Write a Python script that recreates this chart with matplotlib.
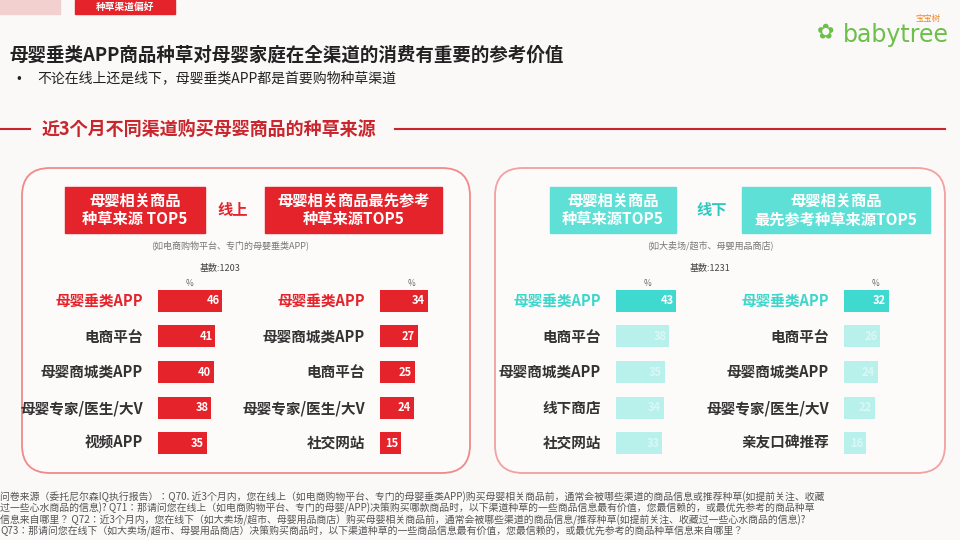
import matplotlib
matplotlib.use("Agg")
import matplotlib.pyplot as plt
from matplotlib.patches import FancyBboxPatch, Rectangle

plt.rcParams["font.family"] = ["Noto Sans CJK JP", "DejaVu Sans"]

title = "母婴垂类APP商品种草对母婴家庭在全渠道的消费有重要的参考价值"
bullet = "不论在线上还是线下，母婴垂类APP都是首要购物种草渠道"
section = "近3个月不同渠道购买母婴商品的种草来源"

online_src_cats = ["母婴垂类APP", "电商平台", "母婴商城类APP", "母婴专家/医生/大V", "视频APP"]
online_src_vals = [46, 41, 40, 38, 35]
online_first_cats = ["母婴垂类APP", "母婴商城类APP", "电商平台", "母婴专家/医生/大V", "社交网站"]
online_first_vals = [34, 27, 25, 24, 15]
offline_src_cats = ["母婴垂类APP", "电商平台", "母婴商城类APP", "线下商店", "社交网站"]
offline_src_vals = [43, 38, 35, 34, 33]
offline_first_cats = ["母婴垂类APP", "电商平台", "母婴商城类APP", "母婴专家/医生/大V", "亲友口碑推荐"]
offline_first_vals = [32, 26, 24, 22, 16]

W, H = 960, 540
fig = plt.figure(figsize=(9.6, 5.4), dpi=100)
fig.patch.set_facecolor("#fbf8f8")
bg = fig.add_axes([0, 0, 1, 1])
bg.set_xlim(0, W); bg.set_ylim(H, 0); bg.axis("off")

RED = "#e5232b"; DRED = "#c8262c"; TEAL = "#3fd9cf"; LTEAL = "#b8f0ec"; GREY = "#333333"

# top tag
bg.add_patch(Rectangle((75, 0), 100, 14, color=RED))
bg.text(125, 7, "种草渠道偏好", color="white", fontsize=7, ha="center", va="center", weight="bold")
bg.add_patch(Rectangle((0, 0), 60, 14, color="#f3d0d0"))
# logo
bg.text(843, 35, "babytree", color="#6cc04a", fontsize=17, ha="left", va="center", family="DejaVu Sans")
bg.text(826, 32, "✿", color="#6cc04a", fontsize=15, ha="center", va="center", family="DejaVu Sans")
bg.text(928, 19, "宝宝树", color="#f08a24", fontsize=6, ha="center", va="center")

bg.text(10, 55, title, fontsize=13.3, weight="bold", color="#222", va="center")
bg.text(16, 78, "•", fontsize=10, color="#222", va="center")
bg.text(37, 78, bullet, fontsize=10, color="#222", va="center")

bg.plot([0, 30], [129, 129], color=DRED, lw=1.5)
bg.plot([395, 945], [129, 129], color=DRED, lw=1.5)
bg.text(42, 129, section, fontsize=13, weight="bold", color=DRED, va="center")

def panel(x0, x1, edge):
    bg.add_patch(FancyBboxPatch((x0, 168), x1 - x0, 305, boxstyle="round,pad=0,rounding_size=28",
                                fc="#fdfafa", ec=edge, lw=1.3))
panel(22, 470, "#f08a8a")
panel(495, 945, "#f3a0a0")

def hbox(x0, x1, text, col):
    bg.add_patch(Rectangle((x0, 187), x1 - x0, 46, color=col))
    bg.text((x0 + x1) / 2, 210, text, color="white", fontsize=11, weight="bold",
            ha="center", va="center", linespacing=1.2)

hbox(65, 205, "母婴相关商品\n种草来源 TOP5", RED)
hbox(265, 442, "母婴相关商品最先参考\n种草来源TOP5", RED)
bg.text(233, 210, "线上", color=RED, fontsize=11, weight="bold", ha="center", va="center")
bg.text(230, 245, "(如电商购物平台、专门的母婴垂类APP)", color="#777", fontsize=6.5, ha="center", va="center")
bg.text(220, 268, "基数:1203", color="#444", fontsize=6.5, ha="center", va="center")

hbox(550, 676, "母婴相关商品\n种草来源TOP5", "#5fe0d6")
hbox(742, 930, "母婴相关商品\n最先参考种草来源TOP5", "#5fe0d6")
bg.text(712, 210, "线下", color="#2cc9bf", fontsize=11, weight="bold", ha="center", va="center")
bg.text(710, 245, "(如大卖场/超市、母婴用品商店)", color="#777", fontsize=6.5, ha="center", va="center")
bg.text(710, 268, "基数:1231", color="#444", fontsize=6.5, ha="center", va="center")

rows_y = [301, 337, 372, 408, 443]
SCALE = 1.4

def bars(xstart, cats, vals, first_col, other_col, first_txt, other_txt, other_val_col):
    width_px = 100
    ax = fig.add_axes([xstart / W, 1 - 461 / H, width_px / W, (461 - 283) / H])
    ax.set_xlim(0, width_px / SCALE)
    ax.set_ylim(4.5, -0.5)
    ax.axis("off")
    cols = [first_col] + [other_col] * (len(vals) - 1)
    ax.barh(range(len(vals)), vals, height=0.62, color=cols)
    for i, (c, v) in enumerate(zip(cats, vals)):
        ax.text(v - 2, i, str(v), ha="right", va="center", fontsize=8, weight="bold",
                color="white" if i == 0 else other_val_col)
        bg.text(xstart - 15, rows_y[i], c, ha="right", va="center", fontsize=10.5, weight="bold",
                color=first_txt if i == 0 else other_txt)
    bg.text(xstart + 32, 283, "%", fontsize=6, color="#666", ha="center", va="center")

bars(158, online_src_cats, online_src_vals, RED, RED, RED, GREY, "white")
bars(380, online_first_cats, online_first_vals, RED, RED, RED, GREY, "white")
bars(616, offline_src_cats, offline_src_vals, TEAL, LTEAL, "#3dd6cb", GREY, "#d8f8f6")
bars(844, offline_first_cats, offline_first_vals, TEAL, LTEAL, "#3dd6cb", GREY, "#d8f8f6")

notes = ["问卷来源（委托尼尔森IQ执行报告）：Q70. 近3个月内，您在线上（如电商购物平台、专门的母婴垂类APP)购买母婴相关商品前，通常会被哪些渠道的商品信息或推荐种草(如提前关注、收藏",
         "过一些心水商品的信息)? Q71：那请问您在线上（如电商购物平台、专门的母婴/APP)决策购买哪款商品时，以下渠道种草的一些商品信息最有价值，您最信赖的，或最优先参考的商品种草",
         "信息来自哪里？ Q72：近3个月内，您在线下（如大卖场/超市、母婴用品商店）购买母婴相关商品前，通常会被哪些渠道的商品信息/推荐种草(如提前关注、收藏过一些心水商品的信息)?",
         "Q73：那请问您在线下（如大卖场/超市、母婴用品商店）决策购买商品时，以下渠道种草的一些商品信息最有价值，您最信赖的，或最优先参考的商品种草信息来自哪里？"]
for i, n in enumerate(notes):
    bg.text(0, 497 + i * 11.5, n, fontsize=7.1, color="#555", va="center")

fig.savefig("out.png", dpi=100, facecolor=fig.get_facecolor())
